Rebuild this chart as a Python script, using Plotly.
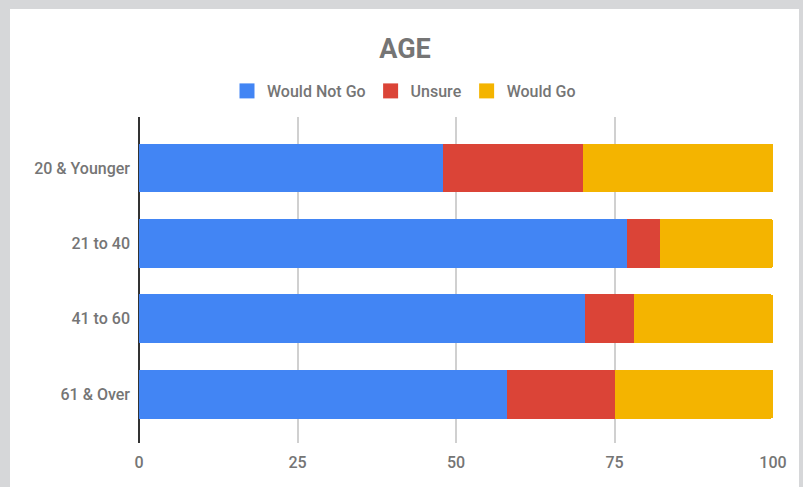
import plotly.graph_objects as go

categories = ["20 & Younger", "21 to 40", "41 to 60", "61 & Over"]
would_not_go = [48, 77, 70.3, 58]
unsure = [22, 5.2, 7.8, 17.1]
would_go = [30, 17.8, 21.9, 24.9]
series_names = ["Would Not Go", "Unsure", "Would Go"]
colors = ["#4285F4", "#DB4437", "#F4B400"]
x_ticks = [0, 25, 50, 75, 100]

W, H = 803, 487
L, R, T, B = 139, 30, 117, 44
pw, ph = W - L - R, H - T - B

def px_x(p):
    return (p - L) / pw

def px_y(p):
    return (H - B - p) / ph

font_family = "Roboto, Arial, sans-serif"
txt = "#757575"

fig = go.Figure()
for name, vals, col in zip(series_names, [would_not_go, unsure, would_go], colors):
    fig.add_trace(go.Bar(
        y=categories, x=vals, name=name, orientation="h",
        marker=dict(color=col, line=dict(width=0)),
        showlegend=False, legendgroup=name,
    ))
for name, col in zip(series_names, colors):
    fig.add_trace(go.Scatter(
        x=[None], y=[None], mode="markers", name=name, legendgroup=name,
        marker=dict(symbol="square", size=15, color=col, line=dict(width=0)),
        showlegend=True,
    ))

fig.update_layout(
    width=W, height=H,
    margin=dict(l=L, r=R, t=T, b=B, pad=0),
    barmode="stack",
    bargap=0.355,
    barcornerradius=2,
    paper_bgcolor="#d6d7d9",
    plot_bgcolor="white",
    font=dict(family=font_family, color=txt, size=16),
    title=dict(
        text="<b>AGE</b>", x=px_x(405), xref="paper", xanchor="center",
        y=1 - 49 / H, yref="container", yanchor="middle",
        font=dict(size=27, color=txt, family=font_family),
    ),
    legend=dict(
        orientation="h", x=px_x(404), xanchor="center",
        y=px_y(91), yanchor="middle",
        font=dict(size=16, color=txt, family=font_family, weight=500),
        bgcolor="rgba(0,0,0,0)", itemclick=False, itemdoubleclick=False,
        traceorder="normal",
    ),
    xaxis=dict(
        range=[0, 100], tickvals=x_ticks, showgrid=True,
        gridcolor="#d0d0d0", gridwidth=2,
        zeroline=True, zerolinecolor="#333333", zerolinewidth=2,
        showline=False, ticks="", fixedrange=True,
        tickfont=dict(size=16, color=txt, family=font_family, weight=500),
        ticklabelstandoff=8,
    ),
    yaxis=dict(
        type="category", categoryorder="array", categoryarray=categories,
        range=[3.647, -0.676], showgrid=False, zeroline=False,
        showline=False, ticks="", fixedrange=True,
        tickfont=dict(size=16, color=txt, family=font_family, weight=500),
        ticklabelstandoff=8,
    ),
    shapes=[dict(
        type="rect", xref="paper", yref="paper", layer="below",
        x0=px_x(10), x1=px_x(799), y0=px_y(488), y1=px_y(9),
        fillcolor="white", line=dict(width=0),
    )],
)

fig.write_html(
    "out.html",
    config={"displayModeBar": False},
    post_script="document.body.style.margin='0';document.body.style.padding='0';",
)
